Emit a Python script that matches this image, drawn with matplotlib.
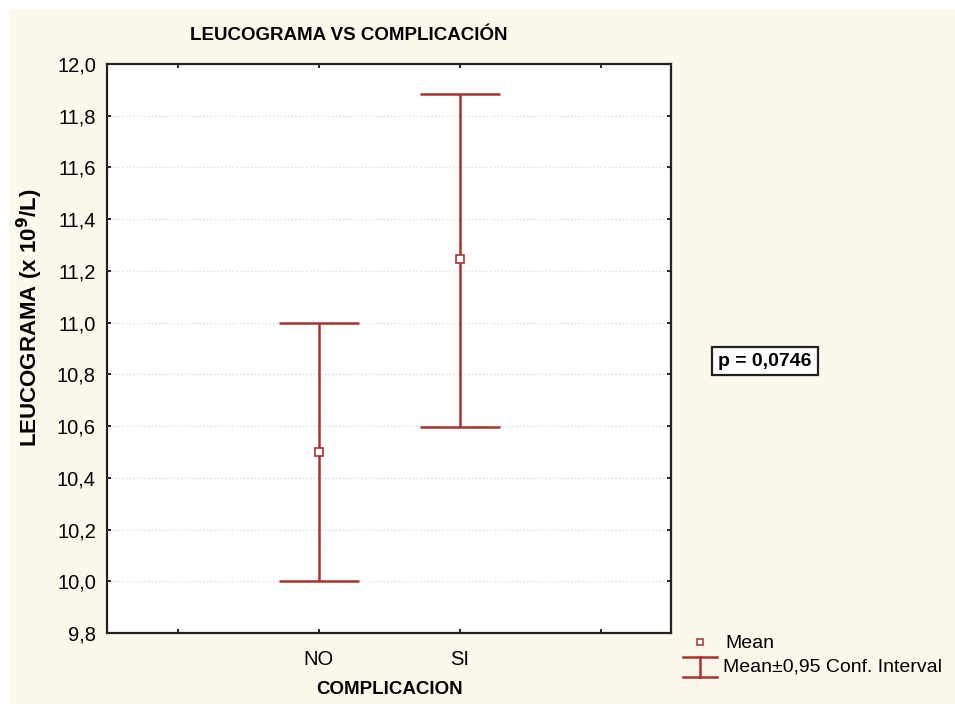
import matplotlib.pyplot as plt
from matplotlib.lines import Line2D
from matplotlib.patches import Rectangle

plt.rcParams['font.family'] = ['Liberation Sans', 'DejaVu Sans']

# datos
grupos = ['NO', 'SI']
medias = [10.50, 11.245]
ic_inf = [10.00, 10.595]
ic_sup = [11.00, 11.885]
p_valor = 'p = 0,0746'

y_ticks = [9.8, 10.0, 10.2, 10.4, 10.6, 10.8, 11.0, 11.2, 11.4, 11.6, 11.8, 12.0]

rojo = '#a83232'
crema = '#fdf8ec'

fig = plt.figure(figsize=(9.55, 7.04), dpi=100)
fig.patch.set_facecolor('white')
fig.add_artist(Rectangle((9 / 955, 0), 1, 1 - 9 / 704, transform=fig.transFigure,
                         facecolor=crema, edgecolor='none', zorder=-10))

ax = fig.add_axes([107 / 955, 71 / 704, (671 - 107) / 955, (640 - 71) / 704])
ax.set_facecolor('white')

x = [1, 2]
err_inf = [m - lo for m, lo in zip(medias, ic_inf)]
err_sup = [hi - m for m, hi in zip(medias, ic_sup)]
ax.errorbar(x, medias, yerr=[err_inf, err_sup], fmt='none', ecolor=rojo,
            elinewidth=1.8, capsize=29, capthick=1.8, zorder=3)
ax.plot(x, medias, 's', markersize=6, markerfacecolor='white',
        markeredgecolor=rojo, markeredgewidth=1.2, zorder=4)

ax.set_xlim(-0.5, 3.5)
ax.set_ylim(9.8, 12.0)
ax.set_xticks([0, 1, 2, 3])
ax.set_xticklabels(['', grupos[0], grupos[1], ''])
ax.set_yticks(y_ticks)
ax.set_yticklabels([f'{v:.1f}'.replace('.', ',') for v in y_ticks])
ax.tick_params(direction='in', length=3, width=1.2, top=True, right=True,
               labelsize=14.5, colors='black', pad=8)
ax.tick_params(axis='x', pad=12)
for s in ax.spines.values():
    s.set_linewidth(1.6)
    s.set_color('#222222')
ax.grid(axis='y', linestyle=':', color='#dcdcdc', linewidth=1)
ax.set_axisbelow(True)

fig.text(349 / 955, 1 - 35 / 704, 'LEUCOGRAMA VS COMPLICACIÓN', ha='center',
         va='center', fontsize=13.5, fontweight='bold')
fig.text(30 / 955, 1 - 318 / 704, r'LEUCOGRAMA (x 10$^{\mathbf{9}}$/L)',
         rotation=90, ha='center', va='center', fontsize=16, fontweight='bold')
fig.text(390 / 955, 1 - 690 / 704, 'COMPLICACION', ha='center', va='center',
         fontsize=13.5, fontweight='bold')

# recuadro del valor p
fig.text(765 / 955, 1 - 361 / 704, p_valor, ha='center', va='center',
         fontsize=14, fontweight='bold',
         bbox=dict(boxstyle='square,pad=0.3', facecolor='white',
                   edgecolor='#222222', linewidth=1.6))

# leyenda
def fx(px):
    return px / 955

def fy(py):
    return 1 - py / 704

fig.add_artist(Line2D([fx(700)], [fy(642)], marker='s', markersize=5,
                      markerfacecolor='white', markeredgecolor=rojo,
                      markeredgewidth=1.1, linestyle='none', transform=fig.transFigure))
fig.text(fx(725), fy(643), 'Mean', ha='left', va='center', fontsize=14)
fig.add_artist(Line2D([fx(683), fx(717)], [fy(657), fy(657)], color=rojo, lw=1.8,
                      transform=fig.transFigure))
fig.add_artist(Line2D([fx(683), fx(717)], [fy(677), fy(677)], color=rojo, lw=1.8,
                      transform=fig.transFigure))
fig.add_artist(Line2D([fx(700), fx(700)], [fy(657), fy(677)], color=rojo, lw=1.8,
                      transform=fig.transFigure))
fig.text(fx(723), fy(667), 'Mean±0,95 Conf. Interval', ha='left', va='center',
         fontsize=14)

fig.savefig('out.png', dpi=100, facecolor=fig.get_facecolor())
